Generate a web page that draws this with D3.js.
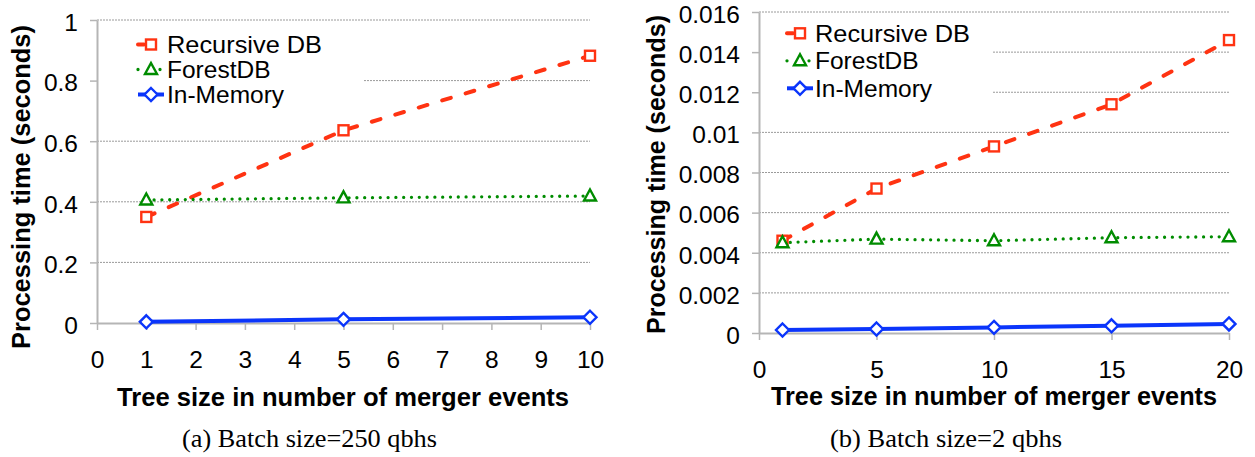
<!DOCTYPE html>
<html><head><meta charset="utf-8">
<script src="https://cdn.jsdelivr.net/npm/d3@7"></script>
<style>body{margin:0;background:#fff} svg{display:block}</style>
</head><body>
<svg id="c" width="1255" height="457"></svg>
<script>
// ---------- data ----------
const seriesNames = ["Recursive DB", "ForestDB", "In-Memory"];
const xTitle = "Tree size in number of merger events";
const yTitle = "Processing time (seconds)";

// panel (a) Batch size=250 qbhs
const xA = [1, 5, 10];
const recA = [0.35, 0.636, 0.882];
const forA = [0.406, 0.413, 0.419];
const memA = [0.004, 0.012, 0.019];
const xTicksA = [0, 1, 2, 3, 4, 5, 6, 7, 8, 9, 10];
const yTicksA = [0, 0.2, 0.4, 0.6, 0.8, 1];
const yTickLabelsA = ["0", "0.2", "0.4", "0.6", "0.8", "1"];
const captionA = "(a) Batch size=250 qbhs";

// panel (b) Batch size=2 qbhs
const xB = [1, 5, 10, 15, 20];
const recB = [0.0046, 0.0072, 0.0093, 0.0114, 0.0146];
const forB = [0.0045, 0.00468, 0.0046, 0.00475, 0.0048];
const memB = [0.00015, 0.0002, 0.00028, 0.00036, 0.00045];
const xTicksB = [0, 5, 10, 15, 20];
const yTicksB = [0, 0.002, 0.004, 0.006, 0.008, 0.01, 0.012, 0.014, 0.016];
const yTickLabelsB = ["0", "0.002", "0.004", "0.006", "0.008", "0.01", "0.012", "0.014", "0.016"];
const captionB = "(b) Batch size=2 qbhs";

// ---------- styles ----------
const styles = [
  {color: "#ff3312", width: 4, dash: "9,15.5", cap: "round", marker: "square"},
  {color: "#008c00", width: 3.3, dash: "0,7.8", cap: "round", marker: "triangle"},
  {color: "#0b35fb", width: 4, dash: null, cap: "butt", marker: "diamond"}
];

const panels = [
  {x: xA, series: [recA, forA, memA], xTicks: xTicksA, yTicks: yTicksA, yLabels: yTickLabelsA,
   xDomain: [0, 10], yDomain: [0, 1], xRange: [97, 590], yRange: [323, 20],
   legend: {x0: 138, x1: 164, mx: 151, tx: 167, y: 44.5, dy: 25},
   box: [98, 28, 363, 118],
   xTitle: {x: 343, y: 406, len: 452}, yTitle: {x: 30, y: 187, len: 324},
   caption: {text: captionA, x: 309.5, y: 447, len: 255}},
  {x: xB, series: [recB, forB, memB], xTicks: xTicksB, yTicks: yTicksB, yLabels: yTickLabelsB,
   xDomain: [0, 20], yDomain: [0, 0.016], xRange: [759, 1229], yRange: [333, 12],
   legend: {x0: 787, x1: 813, mx: 800, tx: 815, y: 33.3, dy: 27.5},
   box: [760, 17, 992, 110],
   xTitle: {x: 994, y: 405, len: 446}, yTitle: {x: 665, y: 174.5, len: 319},
   caption: {text: captionB, x: 946, y: 447, len: 232}}
];

const svg = d3.select("#c");
const sans = "'Liberation Sans', Arial, Helvetica, sans-serif";
const serif = "'Liberation Serif', 'Times New Roman', serif";

function drawMarker(g, type, cx, cy, color) {
  if (type === "square") {
    g.append("rect").attr("x", cx - 5).attr("y", cy - 5).attr("width", 10).attr("height", 10)
      .attr("fill", "#fff").attr("stroke", color).attr("stroke-width", 2.4);
  } else if (type === "triangle") {
    g.append("path").attr("d", `M${cx},${cy - 6.5}L${cx + 6},${cy + 4.5}L${cx - 6},${cy + 4.5}Z`)
      .attr("fill", "#fff").attr("stroke", color).attr("stroke-width", 2.4).attr("stroke-linejoin", "miter");
  } else {
    g.append("path").attr("d", `M${cx},${cy - 6.5}L${cx + 6.5},${cy}L${cx},${cy + 6.5}L${cx - 6.5},${cy}Z`)
      .attr("fill", "#fff").attr("stroke", color).attr("stroke-width", 2.4);
  }
}

panels.forEach(p => {
  const x = d3.scaleLinear().domain(p.xDomain).range(p.xRange);
  const y = d3.scaleLinear().domain(p.yDomain).range(p.yRange);
  const g = svg.append("g");

  // gridlines
  g.append("g").selectAll("line").data(p.yTicks.filter(v => v !== 0)).join("line")
    .attr("x1", p.xRange[0]).attr("x2", p.xRange[1])
    .attr("y1", d => y(d)).attr("y2", d => y(d))
    .attr("stroke", "#9a9a9a").attr("stroke-width", 1).attr("stroke-dasharray", "2,1");

  // legend background box
  g.append("rect").attr("x", p.box[0]).attr("y", p.box[1])
    .attr("width", p.box[2] - p.box[0]).attr("height", p.box[3] - p.box[1]).attr("fill", "#fff");

  // axes
  const ya = g.append("g").attr("transform", `translate(${p.xRange[0]},0)`)
    .call(d3.axisLeft(y).tickValues(p.yTicks).tickFormat((d, i) => p.yLabels[i])
      .tickSize(7).tickSizeOuter(0).tickPadding(12));
  const xa = g.append("g").attr("transform", `translate(0,${y(0)})`)
    .call(d3.axisBottom(x).tickValues(p.xTicks).tickFormat(d3.format("d"))
      .tickSize(7).tickSizeOuter(0).tickPadding(21));
  [ya, xa].forEach(a => {
    a.selectAll("path.domain").attr("stroke", "#b5b5b5").attr("stroke-width", 2);
    a.selectAll(".tick line").attr("stroke", "#b5b5b5").attr("stroke-width", 1.5);
    a.selectAll("text").attr("font-family", sans).attr("font-size", 24.5).attr("fill", "#000");
  });
  ya.selectAll("text").attr("dy", "0.42em");

  // series lines
  p.series.forEach((vals, si) => {
    const s = styles[si];
    const line = d3.line().x((d, i) => x(p.x[i])).y(d => y(d));
    g.append("path").datum(vals).attr("d", line).attr("fill", "none")
      .attr("stroke", s.color).attr("stroke-width", s.width)
      .attr("stroke-dasharray", s.dash).attr("stroke-linecap", s.cap);
  });
  p.series.forEach((vals, si) => {
    const s = styles[si];
    vals.forEach((v, i) => drawMarker(g, s.marker, x(p.x[i]), y(v), s.color));
  });

  // legend
  seriesNames.forEach((name, si) => {
    const s = styles[si];
    const ly = p.legend.y + si * p.legend.dy;
    g.append("line").attr("x1", p.legend.x0).attr("x2", p.legend.x1).attr("y1", ly).attr("y2", ly)
      .attr("stroke", s.color).attr("stroke-width", s.width)
      .attr("stroke-dasharray", si === 0 ? "6,20" : (si === 1 ? "0,22" : null))
      .attr("stroke-linecap", s.cap);
    drawMarker(g, s.marker, p.legend.mx, ly, s.color);
    g.append("text").attr("x", p.legend.tx).attr("y", ly).attr("dy", "0.35em")
      .attr("font-family", sans).attr("font-size", 24.5)
      .attr("textLength", si === 0 ? 155 : null).attr("lengthAdjust", "spacingAndGlyphs").text(name);
  });

  // titles
  g.append("text").attr("x", p.xTitle.x).attr("y", p.xTitle.y).attr("text-anchor", "middle")
    .attr("font-family", sans).attr("font-weight", "bold").attr("font-size", 25)
    .attr("textLength", p.xTitle.len).attr("lengthAdjust", "spacingAndGlyphs").text(xTitle);
  g.append("text").attr("transform", `translate(${p.yTitle.x},${p.yTitle.y}) rotate(-90)`)
    .attr("text-anchor", "middle")
    .attr("font-family", sans).attr("font-weight", "bold").attr("font-size", 25)
    .attr("textLength", p.yTitle.len).attr("lengthAdjust", "spacingAndGlyphs").text(yTitle);
  g.append("text").attr("x", p.caption.x).attr("y", p.caption.y).attr("text-anchor", "middle")
    .attr("font-family", serif).attr("font-size", 25)
    .attr("textLength", p.caption.len).attr("lengthAdjust", "spacingAndGlyphs").text(p.caption.text);
});
</script>
</body></html>
